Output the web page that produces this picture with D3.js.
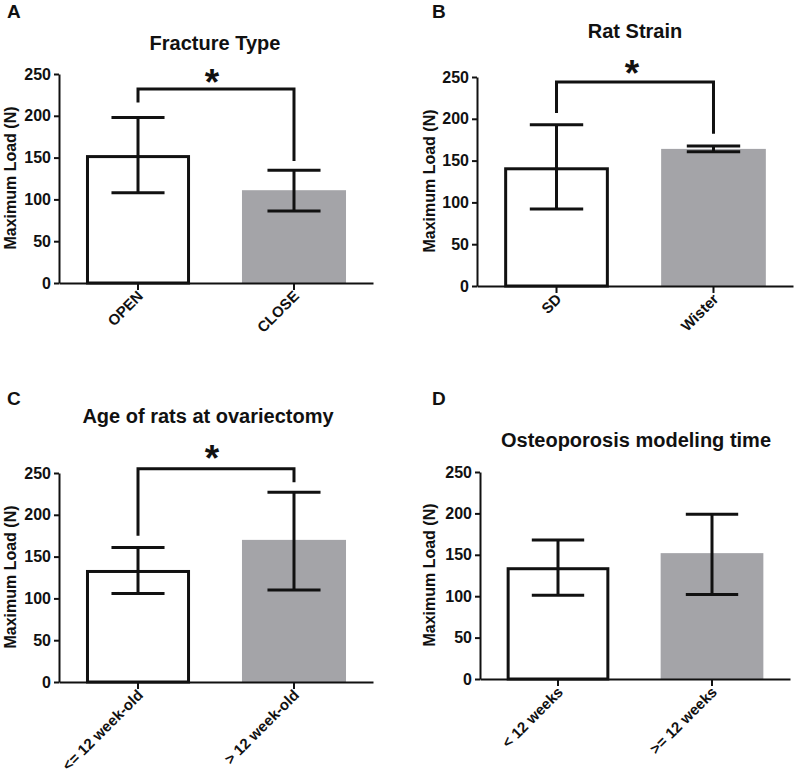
<!DOCTYPE html>
<html><head><meta charset="utf-8">
<script src="https://cdn.jsdelivr.net/npm/d3@7"></script>
<style>body{margin:0;background:#fff}svg{display:block}text{font-family:"Liberation Sans",Arial,sans-serif;font-weight:bold;fill:#111}</style>
</head><body>
<script>
// ---- data ----
const panelLetters = ["A","B","C","D"];
const titles = ["Fracture Type","Rat Strain","Age of rats at ovariectomy","Osteoporosis modeling time"];
const categoriesA = ["OPEN","CLOSE"];
const categoriesB = ["SD","Wister"];
const categoriesC = ["<= 12 week-old","> 12 week-old"];
const categoriesD = ["< 12 weeks",">= 12 weeks"];
const meansA = [153, 111];
const meansB = [142, 164];
const meansC = [134, 170];
const meansD = [135, 152];
const upperA = [198, 135];
const lowerA = [108, 86];
const upperB = [193, 167.5];
const lowerB = [92, 160.5];
const upperC = [161, 227];
const lowerC = [106, 110];
const upperD = [168, 199];
const lowerD = [101, 102];
// significance brackets: [bar height, left leg end, right leg end] in N (null = none)
const bracketA = [232, 216, 146];
const bracketB = [244, 207, 182];
const bracketC = [255, 175, 239];
const bracketD = null;
const yTicks = [0, 50, 100, 150, 200, 250];
const yLabel = "Maximum Load (N)";

// ---- layout ----
const layout = [
  {x0:59, x1:373, yTop:74, yBot:283, letter:[7,18], title:[215,50], star:[212,76], ylab:[16,178]},
  {x0:477, x1:793, yTop:77, yBot:286, letter:[432,18], title:[635,38], star:[632,67], ylab:[435,181]},
  {x0:59, x1:373, yTop:473, yBot:682, letter:[7,405], title:[208,423], star:[212,452], ylab:[16,577]},
  {x0:480, x1:790, yTop:472, yBot:679, letter:[432,405], title:[636,447], star:null, ylab:[435,575]}
];
const cats = [categoriesA, categoriesB, categoriesC, categoriesD];
const means = [meansA, meansB, meansC, meansD];
const uppers = [upperA, upperB, upperC, upperD];
const lowers = [lowerA, lowerB, lowerC, lowerD];
const brackets = [bracketA, bracketB, bracketC, bracketD];
const fills = ["#ffffff", "#a4a4a8"];
const ink = "#111";

const svg = d3.select("body").append("svg").attr("width",797).attr("height",778);

layout.forEach((L, i) => {
  const g = svg.append("g");
  const x = d3.scaleBand().domain(cats[i]).range([L.x0, L.x1]).paddingInner(0.333).paddingOuter(0.173);
  const y = d3.scaleLinear().domain([0, 250]).range([L.yBot, L.yTop]);
  const bw = x.bandwidth();

  // letter & title
  g.append("text").attr("x", L.letter[0]).attr("y", L.letter[1]).attr("font-size", 19).text(panelLetters[i]);
  g.append("text").attr("x", L.title[0]).attr("y", L.title[1]).attr("font-size", 20).attr("text-anchor","middle").text(titles[i]);

  // bars
  const data = cats[i].map((c, j) => ({c, m: means[i][j], hi: uppers[i][j], lo: lowers[i][j], j}));
  g.selectAll("rect.bar").data(data).join("rect")
    .attr("x", d => x(d.c) + (d.j === 0 ? 1.5 : 0))
    .attr("width", d => bw - (d.j === 0 ? 3 : 0))
    .attr("y", d => y(d.m) + (d.j === 0 ? 1.5 : 0))
    .attr("height", d => y(0) - y(d.m) - (d.j === 0 ? 1.5 : 0))
    .attr("fill", d => fills[d.j])
    .attr("stroke", d => d.j === 0 ? ink : "none")
    .attr("stroke-width", 3);

  // error bars
  const cw = bw * 0.51;
  data.forEach(d => {
    const cx = x(d.c) + bw / 2;
    g.append("line").attr("x1", cx).attr("x2", cx).attr("y1", y(d.hi)).attr("y2", y(d.lo)).attr("stroke", ink).attr("stroke-width", 3);
    [d.hi, d.lo].forEach(v => g.append("line").attr("x1", cx - cw/2).attr("x2", cx + cw/2).attr("y1", y(v)).attr("y2", y(v)).attr("stroke", ink).attr("stroke-width", 3));
  });

  // axes
  const ya = g.append("g").attr("transform", `translate(${L.x0},0)`)
    .call(d3.axisLeft(y).tickValues(yTicks).tickSize(5).tickPadding(3).tickSizeOuter(0));
  ya.select(".domain").attr("stroke", ink).attr("stroke-width", 2);
  ya.selectAll(".tick line").attr("stroke", ink).attr("stroke-width", 2);
  ya.selectAll(".tick text").attr("font-size", 16).attr("fill", ink).attr("font-family", null);

  const xa = g.append("g").attr("transform", `translate(0,${L.yBot})`)
    .call(d3.axisBottom(x).tickSize(7).tickSizeOuter(0));
  xa.select(".domain").attr("stroke", ink).attr("stroke-width", 2);
  xa.selectAll(".tick line").attr("stroke", ink).attr("stroke-width", 2);
  xa.selectAll(".tick text").attr("font-size", 15).attr("fill", ink).attr("font-family", null)
    .attr("text-anchor", "end").attr("dy", null).attr("y", 0)
    .attr("transform", "translate(6,14) rotate(-45)");

  // y label
  g.append("text").attr("transform", `translate(${L.ylab[0]},${L.ylab[1]}) rotate(-90)`)
    .attr("text-anchor","middle").attr("font-size", 16).text(yLabel);

  // significance bracket
  const b = brackets[i];
  if (b) {
    const xl = x(cats[i][0]) + bw/2, xr = x(cats[i][1]) + bw/2;
    g.append("path").attr("d", `M${xl},${y(b[1])}V${y(b[0])}H${xr}V${y(b[2])}`)
      .attr("fill","none").attr("stroke", ink).attr("stroke-width", 3);
    g.append("text").attr("x", L.star[0]).attr("y", L.star[1] + 19).attr("font-size", 37)
      .attr("text-anchor","middle").text("*");
  }
});
</script>
</body></html>
